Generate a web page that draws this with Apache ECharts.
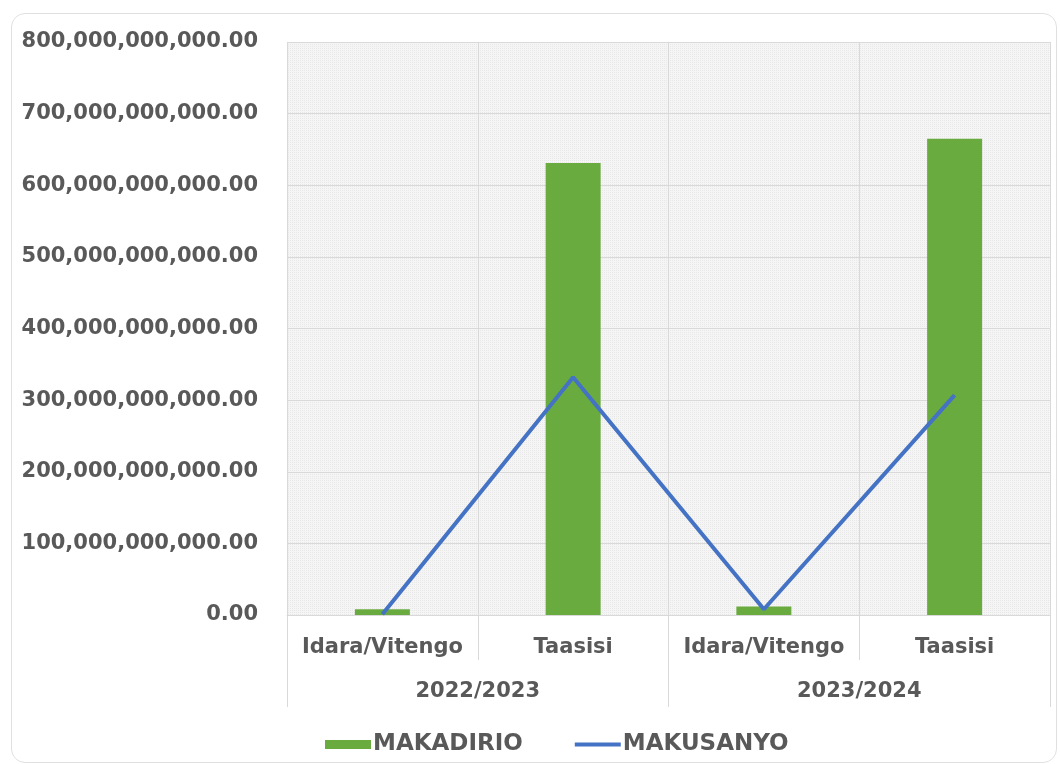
<!DOCTYPE html>
<html>
<head>
<meta charset="utf-8">
<script src="https://cdn.jsdelivr.net/npm/echarts@6/dist/echarts.min.js"></script>
<style>
html,body{margin:0;padding:0;background:#fff;}
#wrap{position:relative;width:1060px;height:764px;}
#chart{width:1060px;height:764px;}
#frame{position:absolute;left:11px;top:13px;width:1044px;height:748px;border:1.5px solid #e0e0e0;border-radius:14px;pointer-events:none;}
</style>
</head>
<body>
<div id="wrap"><div id="chart"></div><div id="frame"></div></div>
<script>
const categories = ['Idara/Vitengo', 'Taasisi', 'Idara/Vitengo', 'Taasisi'];
const groups = ['2022/2023', '2023/2024'];
const makadirio = [8000000000, 631000000000, 12000000000, 665000000000];
const makusanyo = [1000000000, 332000000000, 8000000000, 307000000000];

const pc = document.createElement('canvas');
pc.width = 4; pc.height = 4;
const g = pc.getContext('2d');
g.fillStyle = '#f5f5f5'; g.fillRect(0,0,4,4);
g.fillStyle = '#e8e8e8';
g.fillRect(0,0,1,1); g.fillRect(2,2,1,1); g.fillRect(2,0,1,1); g.fillRect(0,2,1,1);

const txt = '#595959';
const fontFamily = 'DejaVu Sans';
const chart = echarts.init(document.getElementById('chart'));
chart.setOption({
  animation: false,
  backgroundColor: '#fff',
  grid: {left: 287, right: 10, top: 42, bottom: 149, show: true, borderWidth: 0,
         backgroundColor: {image: pc, repeat: 'repeat'}},
  legend: {
    bottom: 3, left: 320, itemGap: 52,
    itemWidth: 46, itemHeight: 9,
    textStyle: {color: txt, fontSize: 23, fontWeight: 'bold', fontFamily: fontFamily, padding: [0, 0, 0, -3]},
    data: [
      {name: 'MAKADIRIO', icon: 'rect'},
      {name: 'MAKUSANYO', icon: 'path://M0,0 L46,0 L46,4 L0,4 Z'}
    ]
  },
  xAxis: [
    {
      type: 'category', data: categories, position: 'bottom',
      axisLine: {show: true, lineStyle: {color: '#d9d9d9', width: 1}},
      axisTick: {show: true, interval: 0, length: 45, lineStyle: {color: '#d9d9d9'}},
      splitLine: {show: true, interval: 0, lineStyle: {color: '#d9d9d9'}},
      axisLabel: {interval: 0, hideOverlap: false, color: txt, fontSize: 21, fontWeight: 'bold', fontFamily: fontFamily, margin: 22}
    },
    {
      type: 'category', data: groups, position: 'bottom', offset: 0,
      axisLine: {show: false},
      axisTick: {show: true, interval: 0, length: 92, lineStyle: {color: '#d9d9d9'}},
      splitLine: {show: false},
      axisLabel: {interval: 0, color: txt, fontSize: 21, fontWeight: 'bold', fontFamily: fontFamily, margin: 66}
    }
  ],
  yAxis: {
    type: 'value', min: 0, max: 800000000000, interval: 100000000000,
    axisLine: {show: false}, axisTick: {show: false},
    splitLine: {show: true, lineStyle: {color: '#d9d9d9'}},
    axisLabel: {
      color: txt, fontSize: 21, fontWeight: 'bold', fontFamily: fontFamily, margin: 29,
      formatter: v => v.toLocaleString('en-US', {minimumFractionDigits: 2, maximumFractionDigits: 2})
    }
  },
  series: [
    {name: 'MAKADIRIO', type: 'bar', data: makadirio, barWidth: 55, itemStyle: {color: '#6aab3f'}, xAxisIndex: 0},
    {name: 'MAKUSANYO', type: 'line', data: makusanyo, showSymbol: false, symbol: 'none',
     lineStyle: {color: '#4472c4', width: 4}, itemStyle: {color: '#4472c4'}, xAxisIndex: 0}
  ]
});
</script>
</body>
</html>
